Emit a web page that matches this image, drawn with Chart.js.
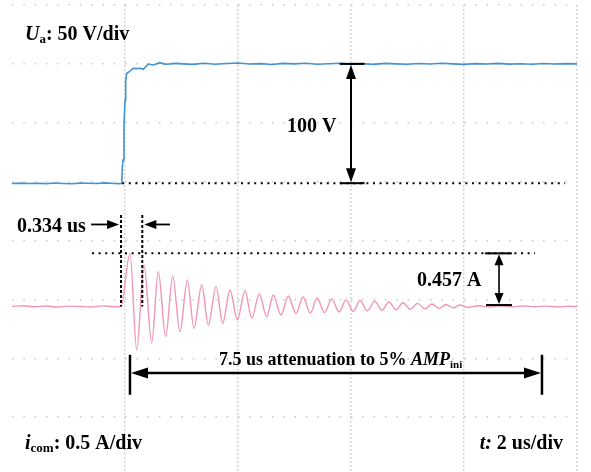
<!DOCTYPE html>
<html>
<head>
<meta charset="utf-8">
<script src="https://cdn.jsdelivr.net/npm/chart.js@4.4.1/dist/chart.umd.min.js"></script>
<style>
    html, body { margin: 0; padding: 0; background: #fff; }
    #wrap { width: 591px; height: 472px; }
</style>
</head>
<body>
<div id="wrap"><canvas id="scope" width="591" height="472"></canvas></div>
<script>
// Time axis in us (2 us/div), grid rows in divisions
const timeTicks = [0, 2, 4, 6, 8];
const divTicks = [0, 1, 2, 3, 4, 5, 6, 7];

// Ua trace (V), 50 V/div
const voltTime = [
    -2.0, -1.85, -1.7, -1.55, -1.4, -1.25, -1.1, -0.95, -0.8, -0.65, -0.5, -0.35, -0.2, -0.1, -0.058,
    -0.048, -0.035, -0.018, 0.0, 0.012, 0.03, 0.076, 0.147, 0.2, 0.265, 0.324, 0.412, 0.5, 0.619, 0.7, 0.796, 0.9, 1.03,
    1.2, 1.4, 1.6, 1.8, 2.0, 2.2, 2.4, 2.6, 2.8, 3.0, 3.2, 3.4, 3.6, 3.8, 4.0, 4.2, 4.4,
    4.6, 4.8, 5.0, 5.2, 5.4, 5.6, 5.8, 6.0, 6.2, 6.4, 6.6, 6.8, 7.0, 7.2, 7.4, 7.6, 7.8, 8.0
];
const voltValues = [
    -1.5, -1.2, -1.6, -1.3, -1.7, -1.1, -1.5, -1.8, -1.2, -1.4, -1.6, -1.0, -1.5, -1.7, -1.5,
    12, 18.4, 48, 69, 85, 92, 93.4, 96.3, 96.0, 96.3, 95.4, 99.9, 99.1, 101, 99.8, 100, 100.4, 100,
    99.6, 100.5, 99.7, 100.3, 100.8, 99.9, 100.2, 99.5, 100.4, 100.0, 100.6, 99.7, 100.1, 100.5, 99.8, 100.2, 99.6,
    100.4, 100.0, 99.7, 100.3, 99.9, 100.5, 100.0, 99.6, 100.2, 99.9, 100.4, 99.8, 100.1, 99.7, 100.3, 99.9, 100.2, 100.0
];

// icom trace (A), 0.5 A/div: baseline, then peaks/troughs of the ringing
const currTime = [
    -2.0, -1.8, -1.6, -1.4, -1.2, -1.0, -0.8, -0.6, -0.4, -0.2, -0.07,
    0.088, 0.207, 0.336, 0.473, 0.589, 0.720, 0.844, 0.973, 1.103, 1.221, 1.358, 1.474,
    1.611, 1.729, 1.858, 1.988, 2.124, 2.242, 2.377, 2.508, 2.625, 2.761, 2.890, 3.027,
    3.15, 3.28, 3.40, 3.53, 3.66, 3.79, 3.91, 4.04, 4.16, 4.29, 4.42, 4.55,
    4.67, 4.80, 4.92, 5.05, 5.18, 5.31, 5.43, 5.56, 5.68, 5.81, 5.93, 6.06,
    6.25, 6.45, 6.65, 6.85, 7.05, 7.25, 7.45, 7.65, 7.85, 8.0
];
const currValues = [
    0, 0.006, -0.003, 0.004, -0.005, 0.003, 0, -0.004, 0.005, -0.002, 0,
    0.451, -0.369, 0.352, -0.309, 0.295, -0.256, 0.258, -0.214, 0.225, -0.185, 0.182, -0.157,
    0.168, -0.142, 0.140, -0.114, 0.134, -0.100, 0.106, -0.086, 0.097, -0.072, 0.089, -0.060,
    0.080, -0.057, 0.072, -0.052, 0.064, -0.047, 0.056, -0.042, 0.050, -0.037, 0.044, -0.033,
    0.038, -0.028, 0.032, -0.024, 0.026, -0.020, 0.021, -0.016, 0.016, -0.012, 0.012, -0.008,
    0.006, -0.004, 0.005, -0.003, 0.004, -0.002, 0.003, -0.004, 0.002, -0.001
];

const stepTime = -0.07;          // us, start of the step
const firstPeakTime = 0.306;     // us, second dashed line
const peakCurrent = 0.451;       // A
const voltBase = -1.3;           // V
const voltTop = 100;             // V
const decayStart = 0.088;        // us
const decayEnd = 7.38;           // us

const SERIF = '"Liberation Serif", "Times New Roman", serif';

function toPoints(xs, ys) {
    return xs.map((x, i) => ({ x: x, y: ys[i] }));
}

function setTicks(values) {
    return scale => { scale.ticks = values.map(v => ({ value: v })); };
}

// draws a run of text pieces: {t, size, italic, dy}
function richText(ctx, x, y, parts, align) {
    const fontOf = p => `${p.italic ? 'italic ' : ''}bold ${p.size}px ${SERIF}`;
    let width = 0;
    parts.forEach(p => { ctx.font = fontOf(p); width += ctx.measureText(p.t).width; });
    let cx = align === 'right' ? x - width : (align === 'center' ? x - width / 2 : x);
    ctx.textBaseline = 'alphabetic';
    ctx.textAlign = 'left';
    parts.forEach(p => {
        ctx.font = fontOf(p);
        ctx.fillText(p.t, cx, y + (p.dy || 0));
        cx += ctx.measureText(p.t).width;
    });
}

function arrowHead(ctx, x, y, dx, dy, len, half) {
    // (x, y) is the tip, (dx, dy) the pointing direction
    const bx = x - dx * len, by = y - dy * len;
    ctx.beginPath();
    ctx.moveTo(x, y);
    ctx.lineTo(bx - dy * half, by + dx * half);
    ctx.lineTo(bx + dy * half, by - dx * half);
    ctx.closePath();
    ctx.fill();
}

function line(ctx, x1, y1, x2, y2, width, dash) {
    ctx.save();
    ctx.lineWidth = width;
    ctx.setLineDash(dash || []);
    ctx.beginPath();
    ctx.moveTo(x1, y1);
    ctx.lineTo(x2, y2);
    ctx.stroke();
    ctx.restore();
}

const scopeMarks = {
    id: 'scopeMarks',
    afterDatasetsDraw(chart) {
        const { ctx, scales } = chart;
        const px = t => scales.x.getPixelForValue(t);
        const pv = v => scales.yV.getPixelForValue(v);
        const pi = a => scales.yI.getPixelForValue(a);
        const dots = [2, 4.6];

        ctx.save();
        ctx.strokeStyle = '#000';
        ctx.fillStyle = '#000';

        // 0 V reference and 100 V arrow
        line(ctx, px(stepTime + 0.02), pv(voltBase), px(7.79), pv(voltBase), 2, dots);
        const xa = px(4.0);
        line(ctx, px(3.8), pv(voltTop), px(4.24), pv(voltTop), 2);
        line(ctx, px(3.8), pv(voltBase), px(4.24), pv(voltBase), 2);
        line(ctx, xa, pv(voltTop) + 10, xa, pv(voltBase) - 10, 2);
        arrowHead(ctx, xa, pv(voltTop) + 1, 0, -1, 14, 5);
        arrowHead(ctx, xa, pv(voltBase) - 1, 0, 1, 14, 5);

        // 0.334 us markers
        line(ctx, px(stepTime), pi(0.777), px(stepTime), pi(0), 2, [3, 2]);
        line(ctx, px(firstPeakTime), pi(0.777), px(firstPeakTime), pi(0), 2, [3, 2]);
        const ya = pi(0.696);
        line(ctx, px(-0.6), ya, px(stepTime) - 10, ya, 1.8);
        arrowHead(ctx, px(stepTime) - 2, ya, 1, 0, 12, 4.5);
        line(ctx, px(0.796), ya, px(firstPeakTime) + 10, ya, 1.8);
        arrowHead(ctx, px(firstPeakTime) + 2, ya, -1, 0, 12, 4.5);

        // peak current level and 0.457 A arrow
        line(ctx, px(-0.584), pi(peakCurrent), px(7.257), pi(peakCurrent), 2, dots);
        const xb = px(6.62);
        line(ctx, px(6.37), pi(peakCurrent), px(6.85), pi(peakCurrent), 2);
        line(ctx, px(6.39), pi(0.012), px(6.85), pi(0.012), 2);
        line(ctx, xb, pi(peakCurrent) + 8, xb, pi(0.012) - 8, 1.6);
        arrowHead(ctx, xb, pi(peakCurrent) + 1, 0, -1, 11, 4.5);
        arrowHead(ctx, xb, pi(0.012) - 1, 0, 1, 11, 4.5);

        // 7.5 us attenuation span
        const yc = pi(-0.565);
        line(ctx, px(decayStart), pi(-0.41), px(decayStart), pi(-0.75), 2.5);
        line(ctx, px(decayEnd), pi(-0.41), px(decayEnd), pi(-0.75), 2.5);
        line(ctx, px(decayStart) + 12, yc, px(decayEnd) - 12, yc, 2.5);
        arrowHead(ctx, px(decayStart) + 1, yc, -1, 0, 17, 5.5);
        arrowHead(ctx, px(decayEnd) - 1, yc, 1, 0, 17, 5.5);

        // labels
        richText(ctx, 25, 40, [
            { t: 'U', size: 20, italic: true },
            { t: 'a', size: 13, dy: 3 },
            { t: ': 50 V/div', size: 20 }
        ]);
        richText(ctx, 287, 132, [{ t: '100 V', size: 20 }]);
        richText(ctx, 17, 232, [{ t: '0.334 us', size: 20 }]);
        richText(ctx, 417, 286, [{ t: '0.457 A', size: 20 }]);
        richText(ctx, 219, 365, [
            { t: '7.5 us attenuation to 5% ', size: 18 },
            { t: 'AMP', size: 18, italic: true },
            { t: 'ini', size: 11, dy: 3 }
        ]);
        richText(ctx, 25, 449, [
            { t: 'i', size: 20, italic: true },
            { t: 'com', size: 13, dy: 3 },
            { t: ': 0.5 A/div', size: 20 }
        ]);
        richText(ctx, 563, 449, [
            { t: 't:', size: 20, italic: true },
            { t: ' 2 us/div', size: 20 }
        ], 'right');
        ctx.restore();
    }
};

const gridColor = '#c9c9c9';

new Chart(document.getElementById('scope').getContext('2d'), {
    type: 'line',
    data: {
        datasets: [
            {
                label: 'Ua',
                data: toPoints(voltTime, voltValues),
                yAxisID: 'yV',
                borderColor: 'rgb(66, 146, 212)',
                borderWidth: 1.6,
                pointRadius: 0,
                tension: 0
            },
            {
                label: 'icom',
                data: toPoints(currTime, currValues),
                yAxisID: 'yI',
                borderColor: 'rgb(242, 150, 178)',
                borderWidth: 1.4,
                pointRadius: 0,
                cubicInterpolationMode: 'monotone'
            }
        ]
    },
    options: {
        responsive: false,
        animation: false,
        events: [],
        layout: { padding: { left: 12, right: 14, top: 5, bottom: 0 } },
        plugins: { legend: { display: false }, tooltip: { enabled: false } },
        scales: {
            x: {
                type: 'linear',
                min: -2,
                max: 8,
                afterBuildTicks: setTicks(timeTicks),
                ticks: { display: false },
                grid: { color: gridColor, lineWidth: 1.5, drawTicks: false },
                border: { display: false, dash: [1.5, 2.5] }
            },
            yDiv: {
                type: 'linear',
                position: 'left',
                min: -0.93,
                max: 7,
                afterBuildTicks: setTicks(divTicks),
                ticks: { display: false },
                grid: { color: gridColor, lineWidth: 1.5, drawTicks: false },
                border: { display: false, dash: [1.5, 9.8] }
            },
            yV: { type: 'linear', display: false, min: -246.5, max: 150 },
            yI: { type: 'linear', display: false, min: -1.4055, max: 2.5595 }
        }
    },
    plugins: [scopeMarks]
});
</script>
</body>
</html>
